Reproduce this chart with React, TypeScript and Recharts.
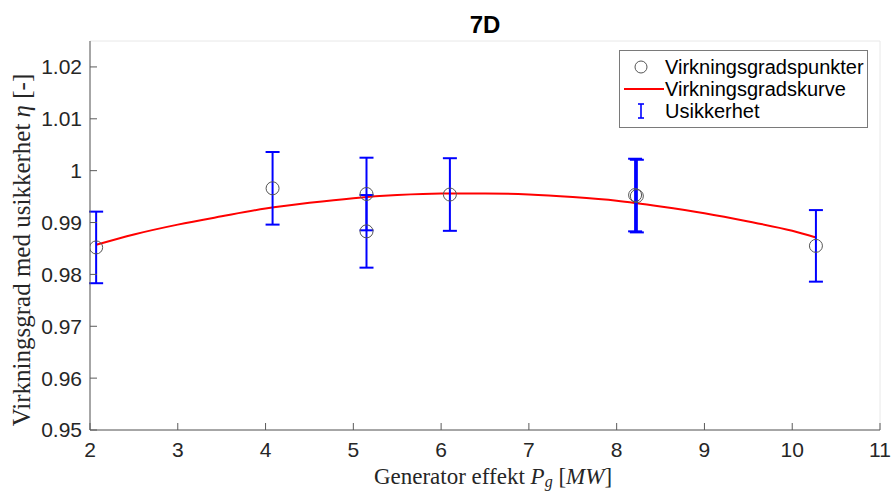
import React from "react";
import {
  ComposedChart,
  Scatter,
  Line,
  XAxis,
  YAxis,
  CartesianGrid,
  ErrorBar,
  Legend,
} from "recharts";

// målepunkter (virkningsgrad med usikkerhet)
const pointX = [2.07, 4.08, 5.15, 5.15, 6.1, 8.21, 8.23, 10.27];
const pointEta = [0.9852, 0.9966, 0.9955, 0.9883, 0.9954, 0.9953, 0.9951, 0.9855];
const pointErr = [0.0069, 0.007, 0.007, 0.007, 0.007, 0.007, 0.007, 0.0069];

// tilpasset kurve
const curveX = [2.07, 2.5, 3, 3.5, 4, 4.5, 5, 5.5, 6, 6.5, 7, 7.5, 8, 8.5, 9, 9.5, 10, 10.27];
const curveEta = [
  0.9857, 0.9877, 0.9896, 0.9912, 0.9927, 0.9938, 0.9947, 0.9953, 0.9956,
  0.9956, 0.9954, 0.9949, 0.9942, 0.9931, 0.9918, 0.9902, 0.9884, 0.9871,
];

const xTicks = [2, 3, 4, 5, 6, 7, 8, 9, 10, 11];
const yTicks = [0.95, 0.96, 0.97, 0.98, 0.99, 1, 1.01, 1.02];

const legendLabels = ["Virkningsgradspunkter", "Virkningsgradskurve", "Usikkerhet"];

const points = pointX.map((x, i) => ({ x, eta: pointEta[i], err: pointErr[i] }));
const curve = curveX.map((x, i) => ({ x, eta: curveEta[i] }));

const SANS = "'Liberation Sans', Arial, Helvetica, sans-serif";
const SERIF = "'Liberation Serif', 'Times New Roman', serif";
const AXIS = "#5a5a5a";
const TEXT = "#262626";

const fmt = (v: number) => String(Math.round(v * 100) / 100);

const OpenCircle = (p: any) => (
  <circle cx={p.cx} cy={p.cy} r={6.5} fill="none" stroke="#555" strokeWidth={1} />
);

const renderLegend = () => (
  <div
    style={{
      width: 249,
      height: 78,
      boxSizing: "border-box",
      border: "1px solid #7a7a7a",
      background: "#fff",
      paddingTop: 5,
      fontFamily: SANS,
      fontSize: 20,
      color: "#000",
    }}
  >
    {legendLabels.map((label, i) => (
      <div key={label} style={{ display: "flex", alignItems: "center", height: 22 }}>
        <svg width={45} height={22}>
          {i === 0 && <circle cx={21} cy={11} r={6} fill="none" stroke="#555" />}
          {i === 1 && <line x1={4} x2={44} y1={11} y2={11} stroke="#ff0000" strokeWidth={2} />}
          {i === 2 && (
            <g stroke="#0000ff" strokeWidth={1.6}>
              <line x1={21} x2={21} y1={4} y2={18} />
              <line x1={18} x2={24} y1={4} y2={4} />
              <line x1={18} x2={24} y1={18} y2={18} />
            </g>
          )}
        </svg>
        <span style={{ lineHeight: "22px" }}>{label}</span>
      </div>
    ))}
  </div>
);

export default function App() {
  return (
    <div style={{ position: "absolute", left: 0, top: 0, width: 891, height: 492, background: "#fff" }}>
      <ComposedChart
        width={891}
        height={492}
        margin={{ top: 41, right: 11, bottom: 0, left: 0 }}
      >
        <CartesianGrid stroke="#e8e8e8" strokeWidth={1} />
        <XAxis
          xAxisId="b"
          dataKey="x"
          type="number"
          domain={[2, 11]}
          ticks={xTicks}
          allowDataOverflow
          height={62}
          tickSize={-7}
          tickMargin={19}
          axisLine={{ stroke: AXIS }}
          tickLine={{ stroke: AXIS }}
          tick={{ fill: TEXT, fontSize: 21, fontFamily: SANS }}
          label={{
            content: () => (
              <text x={493} y={484} textAnchor="middle" fontFamily={SERIF} fontSize={23} fill={TEXT}>
                Generator effekt <tspan fontStyle="italic">P</tspan>
                <tspan fontStyle="italic" fontSize={16} dy={3}>g</tspan>
                <tspan dy={-3}> [</tspan>
                <tspan fontStyle="italic">MW</tspan>]
              </text>
            ),
          }}
        />
        <XAxis
          xAxisId="t"
          orientation="top"
          type="number"
          domain={[2, 11]}
          ticks={xTicks}
          allowDataOverflow
          height={0}
          tickSize={-7}
          tick={false}
          axisLine={{ stroke: AXIS }}
          tickLine={{ stroke: AXIS }}
        />
        <YAxis
          yAxisId="l"
          type="number"
          domain={[0.95, 1.025]}
          ticks={yTicks}
          allowDataOverflow
          width={90}
          tickSize={-7}
          tickMargin={15}
          tickFormatter={fmt}
          axisLine={{ stroke: AXIS }}
          tickLine={{ stroke: AXIS }}
          tick={{ fill: TEXT, fontSize: 21, fontFamily: SANS }}
          label={{
            content: () => (
              <g>
                <text x={485} y={33} textAnchor="middle" fontFamily={SANS} fontWeight="bold" fontSize={24} fill="#000">
                  7D
                </text>
                <text
                  x={0}
                  y={0}
                  transform="translate(30,250) rotate(-90)"
                  textAnchor="middle"
                  fontFamily={SERIF}
                  fontSize={25}
                  fill={TEXT}
                >
                  Virkningsgrad med usikkerhet <tspan fontStyle="italic">η</tspan> [-]
                </text>
              </g>
            ),
          }}
        />
        <YAxis
          yAxisId="r"
          orientation="right"
          type="number"
          domain={[0.95, 1.025]}
          ticks={yTicks}
          allowDataOverflow
          width={0}
          tickSize={-7}
          tick={false}
          axisLine={{ stroke: AXIS }}
          tickLine={{ stroke: AXIS }}
        />
        <Scatter
          xAxisId="b"
          yAxisId="l"
          data={points}
          dataKey="eta"
          shape={OpenCircle}
          isAnimationActive={false}
        />
        <Line
          xAxisId="b"
          yAxisId="l"
          data={curve}
          dataKey="eta"
          type="monotone"
          stroke="#ff0000"
          strokeWidth={2}
          dot={false}
          activeDot={false}
          isAnimationActive={false}
        />
        <Scatter
          xAxisId="b"
          yAxisId="l"
          data={points}
          dataKey="eta"
          shape={() => null}
          isAnimationActive={false}
        >
          <ErrorBar
            dataKey="err"
            direction="y"
            width={7}
            stroke="#0000ff"
            strokeWidth={2}
            isAnimationActive={false}
          />
        </Scatter>
        <Legend
          layout="vertical"
          verticalAlign="middle"
          align="center"
          wrapperStyle={{ left: 619, top: 50, width: 249, height: 78 }}
          content={renderLegend}
        />
      </ComposedChart>
    </div>
  );
}
